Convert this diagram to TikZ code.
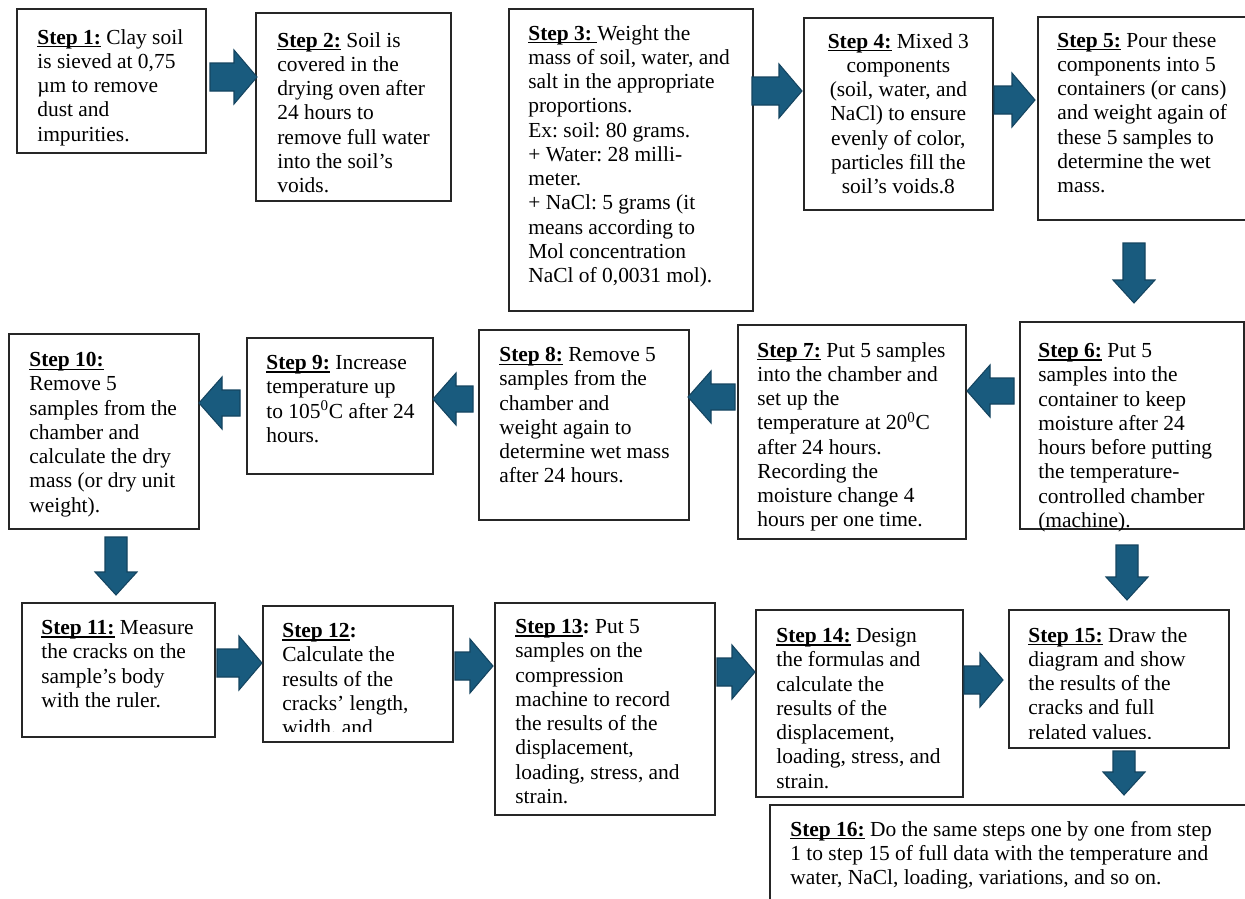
\documentclass[tikz,border=0pt]{standalone}
\usepackage{fontspec}
\setmainfont{Liberation Serif}
\usetikzlibrary{positioning}
\frenchspacing
\definecolor{arrowblue}{RGB}{25,91,126}
\definecolor{arrowedge}{RGB}{20,68,96}
\newcommand{\stp}[1]{\setbox0\hbox{\textbf{#1}}\rlap{\rule[-1.7pt]{\wd0}{0.6pt}}\box0\relax}
\tikzset{
  stepbox/.style={draw=black!85, line width=1pt, inner sep=0pt, anchor=north west},
  steptext/.style={inner sep=0pt, align=left, anchor=north west, font=\fontsize{12.2}{13.8}\selectfont},
  rarrow/.pic={\filldraw[fill=arrowblue, draw=arrowedge, line width=0.6pt]
    (0,-14) -- ({#1-23},-14) -- ({#1-23},-27) -- (#1,0) -- ({#1-23},27) -- ({#1-23},14) -- (0,14) -- cycle;},
  larrow/.pic={\filldraw[fill=arrowblue, draw=arrowedge, line width=0.6pt]
    (0,-13) -- ({23-#1},-13) -- ({23-#1},-26) -- (-#1,0) -- ({23-#1},26) -- ({23-#1},13) -- (0,13) -- cycle;},
  darrow/.pic={\filldraw[fill=arrowblue, draw=arrowedge, line width=0.6pt]
    (-11,0) -- (-11,{#1-23}) -- (-21,{#1-23}) -- (0,#1) -- (21,{#1-23}) -- (11,{#1-23}) -- (11,0) -- cycle;}
}
\begin{document}
\begin{tikzpicture}[x=0.02cm, y=-0.02cm]
    \useasboundingbox[fill=white] (0,0) rectangle (1245,899);
    % boxes
    \node[stepbox, minimum width=3.78cm, minimum height=2.88cm] (s1) at (16,8) {};
    \node[stepbox, minimum width=3.90cm, minimum height=3.76cm] (s2) at (255,12) {};
    \node[stepbox, minimum width=4.88cm, minimum height=6.04cm] (s3) at (508,8) {};
    \node[stepbox, minimum width=3.78cm, minimum height=3.84cm] (s4) at (803,17) {};
    \node[stepbox, minimum width=4.46cm, minimum height=4.06cm] (s5) at (1037,16) {};
    \node[stepbox, minimum width=4.48cm, minimum height=4.14cm] (s6) at (1019,321) {};
    \node[stepbox, minimum width=4.56cm, minimum height=4.28cm] (s7) at (737,324) {};
    \node[stepbox, minimum width=4.20cm, minimum height=3.80cm] (s8) at (478,329) {};
    \node[stepbox, minimum width=3.72cm, minimum height=2.72cm] (s9) at (246,337) {};
    \node[stepbox, minimum width=3.80cm, minimum height=3.90cm] (s10) at (8,333) {};
    \node[stepbox, minimum width=3.86cm, minimum height=2.68cm] (s11) at (21,602) {};
    \node[stepbox, minimum width=3.80cm, minimum height=2.72cm] (s12) at (262,605) {};
    \node[stepbox, minimum width=4.40cm, minimum height=4.24cm] (s13) at (494,602) {};
    \node[stepbox, minimum width=4.14cm, minimum height=3.74cm] (s14) at (755,609) {};
    \node[stepbox, minimum width=4.40cm, minimum height=2.76cm] (s15) at (1008,609) {};
    \node[stepbox, minimum width=9.82cm, minimum height=2.32cm] (s16) at (769,804) {};
    % texts
    \node[steptext] (t1) at ([shift={(21,21)}]s1.north west) {\stp{Step 1:} Clay soil\\is sieved at 0,75\\µm to remove\\dust and\\impurities.};
    \node[steptext] (t2) at ([shift={(22,20)}]s2.north west) {\stp{Step 2:} Soil is\\covered in the\\drying oven after\\24 hours to\\remove full water\\into the soil's\\voids.};
    \node[steptext] (t3) at ([shift={(20,17)}]s3.north west) {\stp{Step 3:\ }Weight the\\mass of soil, water, and\\salt in the appropriate\\proportions.\\Ex: soil: 80 grams.\\+ Water: 28 milli-\\meter.\\+ NaCl: 5 grams (it\\means according to\\Mol concentration\\NaCl of 0,0031 mol).};
    \node[steptext, align=center, anchor=north] (t4) at ([shift={(0,16)}]s4.north) {\stp{Step 4:} Mixed 3\\components\\(soil, water, and\\NaCl) to ensure\\evenly of color,\\particles fill the\\soil's voids.8};
    \node[steptext] (t5) at ([shift={(20,16)}]s5.north west) {\stp{Step 5:} Pour these\\components into 5\\containers (or cans)\\and weight again of\\these 5 samples to\\determine the wet\\mass.};
    \node[steptext] (t6) at ([shift={(19,22)}]s6.north west) {\stp{Step 6:} Put 5\\samples into the\\container to keep\\moisture after 24\\hours before putting\\the temperature-\\controlled chamber\\(machine).};
    \node[steptext] (t7) at ([shift={(20,18)}]s7.north west) {\stp{Step 7:} Put 5 samples\\into the chamber and\\set up the\\temperature at 20\textsuperscript{0}C\\after 24 hours.\\Recording the\\moisture change 4\\hours per one time.};
    \node[steptext] (t8) at ([shift={(21,18)}]s8.north west) {\stp{Step 8:} Remove 5\\samples from the\\chamber and\\weight again to\\determine wet mass\\after 24 hours.};
    \node[steptext] (t9) at ([shift={(20,18)}]s9.north west) {\stp{Step 9:} Increase\\temperature up\\to 105\textsuperscript{0}C after 24\\hours.};
    \node[steptext] (t10) at ([shift={(21,19)}]s10.north west) {\stp{Step 10:}\\Remove 5\\samples from the\\chamber and\\calculate the dry\\mass (or dry unit\\weight).};
    \node[steptext] (t11) at ([shift={(20,18)}]s11.north west) {\stp{Step 11:} Measure\\the cracks on the\\sample's body\\with the ruler.};
    \begin{scope}
        \clip ([shift={(1,1)}]s12.north west) rectangle ([shift={(-1,-11)}]s12.south east);
        \node[steptext] (t12) at ([shift={(20,18)}]s12.north west) {\stp{Step 12}\textbf{:}\\Calculate the\\results of the\\cracks' length,\\width, and};
    \end{scope}
    \node[steptext] (t13) at ([shift={(21,17)}]s13.north west) {\stp{Step 13}\textbf{:} Put 5\\samples on the\\compression\\machine to record\\the results of the\\displacement,\\loading, stress, and\\strain.};
    \node[steptext] (t14) at ([shift={(21,19)}]s14.north west) {\stp{Step 14:} Design\\the formulas and\\calculate the\\results of the\\displacement,\\loading, stress, and\\strain.};
    \begin{scope}
        \clip ([shift={(1,1)}]s15.north west) rectangle ([shift={(-1,-10)}]s15.south east);
        \node[steptext] (t15) at ([shift={(20,18)}]s15.north west) {\stp{Step 15:} Draw the\\diagram and show\\the results of the\\cracks and full\\related values.};
    \end{scope}
    \node[steptext] (t16) at ([shift={(21,17)}]s16.north west) {\stp{Step 16:} Do the same steps one by one from step\\1 to step 15 of full data with the temperature and\\water, NaCl, loading, variations, and so on.};
    % block arrows
    \pic at (210,77) {rarrow=47};
    \pic at (752,91) {rarrow=50};
    \pic at (994,100) {rarrow=41};
    \pic at (1134,243) {darrow=60};
    \pic at (1014,391) {larrow=47};
    \pic at (735,397) {larrow=47};
    \pic at (473,399) {larrow=40};
    \pic at (240,403) {larrow=41};
    \pic at (116,537) {darrow=58};
    \pic at (217,663) {rarrow=45};
    \pic at (455,666) {rarrow=38};
    \pic at (717,672) {rarrow=38};
    \pic at (964,680) {rarrow=39};
    \pic at (1127,545) {darrow=55};
    \pic at (1124,751) {darrow=44};
\end{tikzpicture}
\end{document}
